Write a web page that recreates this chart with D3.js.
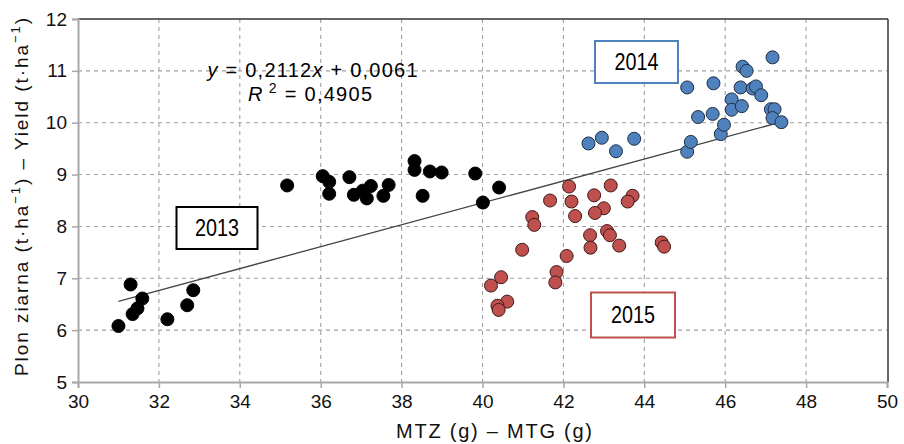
<!DOCTYPE html>
<html>
<head>
<meta charset="utf-8">
<script src="https://cdn.jsdelivr.net/npm/d3@7/dist/d3.min.js"></script>
<style>
  html, body { margin: 0; padding: 0; background: #fff; }
  svg { display: block; font-family: "Liberation Sans", Arial, sans-serif; }
</style>
</head>
<body>
<svg id="chart" width="904" height="444"></svg>
<script>
// Thousand-grain weight (MTZ / MTG) vs grain yield, three seasons
const x2013 = [31.00, 31.30, 31.35, 31.47, 31.59, 32.21, 32.70, 32.85, 35.17, 36.05, 36.21, 36.21, 36.71, 36.82, 37.04, 37.14, 37.24, 37.55, 37.68, 38.32, 38.32, 38.52, 38.70, 38.99, 39.82, 40.01, 40.41];
const y2013 = [6.08, 6.88, 6.31, 6.42, 6.61, 6.21, 6.48, 6.77, 8.79, 8.97, 8.86, 8.63, 8.95, 8.61, 8.69, 8.54, 8.78, 8.59, 8.80, 9.26, 9.09, 8.59, 9.06, 9.04, 9.02, 8.46, 8.75];

const x2014 = [42.62, 42.95, 43.30, 43.75, 45.06, 45.15, 45.06, 45.33, 45.71, 45.69, 45.89, 45.97, 46.16, 46.16, 46.41, 46.38, 46.43, 46.53, 46.68, 46.76, 46.89, 47.17, 47.13, 47.22, 47.17, 47.39];
const y2014 = [9.60, 9.71, 9.45, 9.69, 9.44, 9.63, 10.68, 10.11, 10.76, 10.17, 9.78, 9.96, 10.45, 10.25, 10.32, 10.68, 11.08, 11.00, 10.66, 10.70, 10.53, 11.26, 10.26, 10.26, 10.09, 10.01];

const x2015 = [42.14, 43.17, 41.67, 42.20, 42.76, 43.71, 43.59, 43.00, 42.78, 42.29, 41.23, 41.28, 42.66, 43.08, 43.15, 42.67, 43.38, 44.43, 44.49, 40.98, 42.08, 41.83, 41.80, 40.46, 40.21, 40.61, 40.37, 40.40];
const y2015 = [8.77, 8.79, 8.50, 8.48, 8.60, 8.59, 8.48, 8.35, 8.26, 8.20, 8.18, 8.03, 7.83, 7.91, 7.83, 7.59, 7.63, 7.69, 7.61, 7.55, 7.43, 7.12, 6.92, 7.02, 6.86, 6.55, 6.47, 6.39];

// linear trend fitted over all seasons
const slope = 0.2112;
const intercept = 0.0061;
const r2 = "0,4905";

const xTicks = [30, 32, 34, 36, 38, 40, 42, 44, 46, 48, 50];
const yTicks = [5, 6, 7, 8, 9, 10, 11, 12];

const svg = d3.select("#chart");
const plotL = 78, plotR = 887, plotT = 19, plotB = 382;

const x = d3.scaleLinear().domain([30, 50]).range([plotL, plotR]);
const y = d3.scaleLinear().domain([5, 12]).range([plotB, plotT]);

// dashed grid
const grid = svg.append("g");
grid.selectAll("line.gx").data(xTicks.slice(1, -1)).join("line")
  .attr("x1", d => x(d)).attr("x2", d => x(d))
  .attr("y1", plotT).attr("y2", plotB)
  .attr("stroke", "#a0a0a0").attr("stroke-width", 1.1).attr("stroke-dasharray", "4,4");
grid.selectAll("line.gy").data(yTicks.slice(1, -1)).join("line")
  .attr("x1", plotL).attr("x2", plotR)
  .attr("y1", d => y(d)).attr("y2", d => y(d))
  .attr("stroke", "#a0a0a0").attr("stroke-width", 1.1).attr("stroke-dasharray", "4,4");

// frame: dark top/right, grey axes on left/bottom
svg.append("line").attr("x1", plotL).attr("x2", plotR + 1).attr("y1", plotT).attr("y2", plotT)
  .attr("stroke", "#333").attr("stroke-width", 1.5);
svg.append("line").attr("x1", plotR + 1).attr("x2", plotR + 1).attr("y1", plotT).attr("y2", plotB)
  .attr("stroke", "#333").attr("stroke-width", 1.5);

const xAxis = svg.append("g").attr("transform", `translate(0,${plotB})`)
  .call(d3.axisBottom(x).tickValues(xTicks).tickSize(6).tickPadding(7).tickFormat(d3.format("d")));
const yAxis = svg.append("g").attr("transform", `translate(${plotL},0)`)
  .call(d3.axisLeft(y).tickValues(yTicks).tickSize(6).tickPadding(5).tickFormat(d3.format("d")));
[xAxis, yAxis].forEach(a => {
  a.select(".domain").attr("stroke", "#a8a8a8").attr("stroke-width", 2);
  a.selectAll(".tick line").attr("stroke", "#a8a8a8").attr("stroke-width", 1.5);
  a.selectAll(".tick text").attr("fill", "#111").attr("font-size", 19)
    .attr("font-family", "'Liberation Sans', Arial, sans-serif");
});

// trend line across the data extent
const allX = x2013.concat(x2014, x2015);
const [xmin, xmax] = d3.extent(allX);
svg.append("line")
  .attr("x1", x(xmin)).attr("y1", y(slope * xmin + intercept))
  .attr("x2", x(xmax)).attr("y2", y(slope * xmax + intercept))
  .attr("stroke", "#444").attr("stroke-width", 1.3);

// points
function drawSeries(xs, ys, fill, edge) {
  svg.append("g").selectAll("circle").data(xs.map((v, i) => [v, ys[i]])).join("circle")
    .attr("cx", d => x(d[0])).attr("cy", d => y(d[1])).attr("r", 6.5)
    .attr("fill", fill).attr("stroke", edge).attr("stroke-width", 1);
}
drawSeries(x2013, y2013, "#000", "#000");
drawSeries(x2014, y2014, "#4f81bd", "#1f2f45");
drawSeries(x2015, y2015, "#c0504d", "#3d1a19");

// season labels
function boxLabel(label, cx, cy, w, h, color) {
  svg.append("rect").attr("x", cx - w / 2).attr("y", cy - h / 2).attr("width", w).attr("height", h)
    .attr("fill", "#fff").attr("stroke", color).attr("stroke-width", 2);
  svg.append("text").attr("x", cx).attr("y", cy + 8).attr("text-anchor", "middle")
    .attr("font-size", 23).attr("fill", "#000")
    .attr("textLength", 44).attr("lengthAdjust", "spacingAndGlyphs")
    .text(label);
}
boxLabel("2013", 217, 228, 81, 42, "#000");
boxLabel("2014", 636.5, 62, 83, 42, "#4f81bd");
boxLabel("2015", 633, 315, 84, 45, "#c0504d");

// regression equation
const eq1 = svg.append("text").attr("x", 312.5).attr("y", 77).attr("text-anchor", "middle")
  .attr("font-size", 20).attr("fill", "#000")
  .attr("textLength", 210).attr("lengthAdjust", "spacing");
eq1.append("tspan").attr("font-style", "italic").text("y");
eq1.append("tspan").text(" = " + String(slope).replace(".", ","));
eq1.append("tspan").attr("font-style", "italic").text("x");
eq1.append("tspan").text(" + " + intercept.toFixed(4).replace(".", ","));

const eq2 = svg.append("text").attr("x", 310).attr("y", 101).attr("text-anchor", "middle")
  .attr("font-size", 20).attr("fill", "#000")
  .attr("textLength", 124).attr("lengthAdjust", "spacing");
eq2.append("tspan").attr("font-style", "italic").text("R");
eq2.append("tspan").attr("font-size", 14).attr("dy", -8).text(" 2");
eq2.append("tspan").attr("dy", 8).text(" = " + r2);

// axis titles
svg.append("text").attr("x", 494).attr("y", 438).attr("text-anchor", "middle")
  .attr("font-size", 20).attr("fill", "#111")
  .attr("textLength", 196).attr("lengthAdjust", "spacing")
  .text("MTZ (g) \u2013 MTG (g)");

const yl = svg.append("text").attr("transform", "translate(28,197) rotate(-90)")
  .attr("text-anchor", "middle").attr("font-size", 19).attr("fill", "#111")
  .attr("textLength", 358).attr("lengthAdjust", "spacing");
yl.append("tspan").text("Plon ziarna (t\u00b7ha");
yl.append("tspan").attr("font-size", 13).attr("dy", -8).text("\u22121");
yl.append("tspan").attr("dy", 8).text(") \u2013 Yield (t\u00b7ha");
yl.append("tspan").attr("font-size", 13).attr("dy", -8).text("\u22121");
yl.append("tspan").attr("dy", 8).text(")");
</script>
</body>
</html>
